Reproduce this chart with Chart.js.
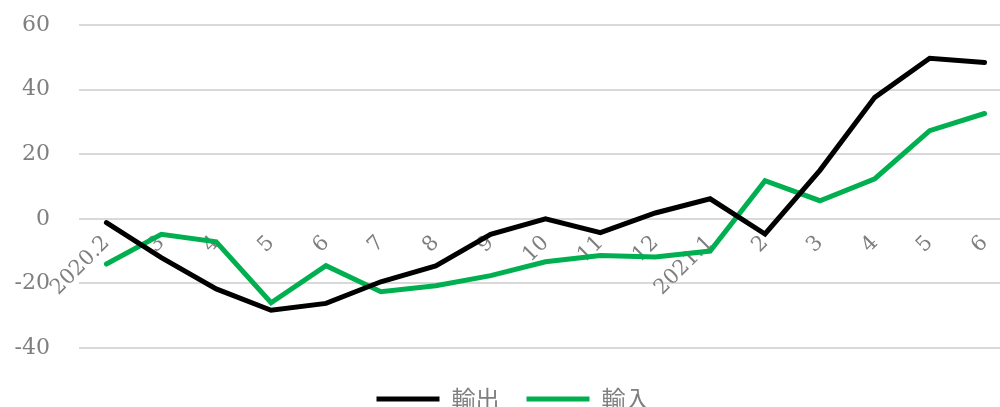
<!DOCTYPE html>
<html>
<head>
<meta charset="utf-8">
<script src="https://cdn.jsdelivr.net/npm/chart.js@4.4.1/dist/chart.umd.min.js"></script>
<style>
  html, body { margin: 0; padding: 0; background: #fff; overflow: hidden; }
  #wrap { width: 1032px; height: 407px; }
</style>
</head>
<body>
<div id="wrap"><canvas id="myChart"></canvas></div>
<script>
//--Datos----------------------------
var meses = ['2020.2', '3', '4', '5', '6', '7', '8', '9', '10', '11', '12',
             '2021.1', '2', '3', '4', '5', '6'];
var exportaciones = [-1.2, -12, -21.7, -28.3, -26.2, -19.5, -14.6, -4.8, 0, -4.3, 1.8,
                     6.2, -4.7, 15, 37.6, 49.7, 48.4];
var importaciones = [-14, -4.8, -7.1, -26, -14.5, -22.6, -20.7, -17.6, -13.3, -11.4, -11.8,
                     -10, 11.8, 5.6, 12.4, 27.3, 32.6];
var ticksY = [-40, -20, 0, 20, 40, 60];

var gris = '#7f7f7f';
var fuente = "'DejaVu Serif', 'Noto Sans CJK JP', serif";

// quita el relleno automatico de los ejes
function sinRelleno(scale){
    scale.paddingTop = 0;
    scale.paddingBottom = 0;
    scale.paddingLeft = 0;
    scale.paddingRight = 0;
}

//--Plotea el grafo----------------------------
function PlotLineChart(ctx){
    return new Chart(ctx, {
        type: 'line',
        data: {
            labels: meses,
            datasets: [{
                label: '輸出',
                data: exportaciones,
                borderColor: '#000000',
                backgroundColor: '#000000',
                borderWidth: 5,
                borderCapStyle: 'round',
                pointRadius: 0,
                tension: 0,
                fill: false
            }, {
                label: '輸入',
                data: importaciones,
                borderColor: '#00b050',
                backgroundColor: '#00b050',
                borderWidth: 5,
                borderCapStyle: 'round',
                pointRadius: 0,
                tension: 0,
                fill: false
            }]
        },
        options: {
            responsive: true,
            maintainAspectRatio: false,
            animation: false,
            layout: { autoPadding: false, padding: { top: 25, right: 20, bottom: -14, left: 14 } },
            plugins: {
                tooltip: { enabled: false },
                legend: {
                    position: 'bottom',
                    title: { display: true, text: ' ', padding: 0, font: { size: 10 } },
                    labels: {
                        usePointStyle: true,
                        pointStyle: 'line',
                        pointStyleWidth: 63,
                        boxHeight: 5,
                        color: gris,
                        padding: 27,
                        font: { family: "'Noto Sans CJK JP', serif", size: 24 }
                    }
                }
            },
            scales: {
                x: {
                    position: { y: 0 },
                    offset: true,
                    afterFit: sinRelleno,
                    grid: { display: false },
                    border: { display: false },
                    ticks: {
                        autoSkip: false,
                        minRotation: 45,
                        maxRotation: 45,
                        padding: 4,
                        color: gris,
                        font: { family: fuente, size: 21 }
                    }
                },
                y: {
                    min: -40,
                    max: 60,
                    afterFit: function(scale){
                        sinRelleno(scale);
                        scale.width = 65;
                    },
                    afterBuildTicks: function(axis){
                        axis.ticks = ticksY.map(function(v){ return { value: v }; });
                    },
                    grid: { color: '#d9d9d9', lineWidth: 2, drawTicks: false },
                    border: { display: false },
                    ticks: {
                        padding: 29,
                        color: gris,
                        font: { family: fuente, size: 22 }
                    }
                }
            }
        }
    });
}

var ctx = document.getElementById('myChart').getContext('2d');
PlotLineChart(ctx);
</script>
</body>
</html>
